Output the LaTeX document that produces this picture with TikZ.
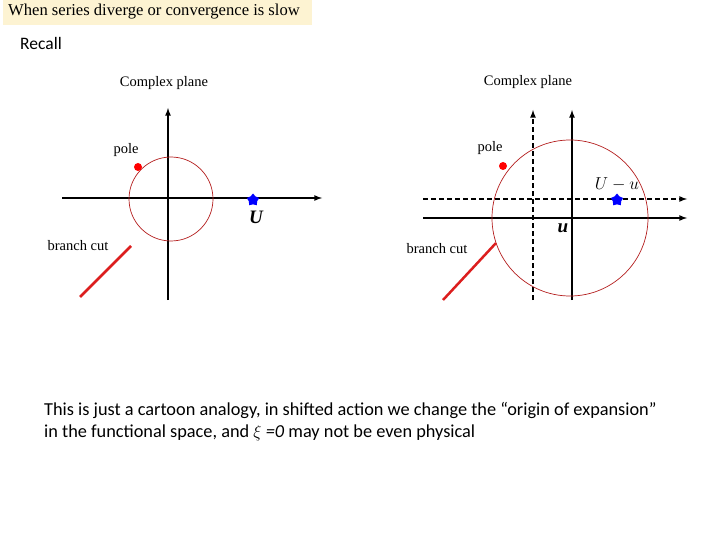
\documentclass[tikz,border=0pt]{standalone}
\usepackage{fontspec}
\setmainfont{Liberation Serif}
\newfontfamily\calfont{Carlito}
\usetikzlibrary{shapes.geometric}
\definecolor{titlebg}{RGB}{253,243,210}
\definecolor{circred}{RGB}{180,30,30}
\definecolor{cutred}{RGB}{220,30,30}
\begin{document}
\begin{tikzpicture}[x=1pt,y=-1pt,
 ax/.style={line width=1.6pt,-latex},
 dax/.style={line width=1.6pt,dash pattern=on 5pt off 3pt,-latex},
 circ/.style={draw=circred,line width=0.7pt},
 cut/.style={draw=cutred,line width=2.5pt},
 lab/.style={font=\fontsize{14.5}{16}\selectfont},
 poledot/.style={circle,fill=red,inner sep=0pt,minimum size=8pt},
 starm/.style={star,star points=5,fill=blue,inner sep=0pt,minimum size=13pt}]
\useasboundingbox (0,0) rectangle (720,540);
\fill[white] (0,0) rectangle (720,540);
\fill[titlebg] (3,0) rectangle (312,25);
\node[anchor=west,inner sep=0pt,font=\fontsize{16.6}{18}\selectfont] (title) at (8,12) {When series diverge or convergence is slow};
\node[anchor=west,inner sep=0pt,font=\calfont\fontsize{17.5}{20}\selectfont] (recall) at (20,43) {Recall};
% left panel
\coordinate (lt) at (168,108); \coordinate (lb) at (168,300);
\coordinate (ll) at (62,198); \coordinate (lr) at (322,198);
\draw[ax] (lb) -- (lt);
\draw[ax] (ll) -- (lr);
\draw[circ] (171,199) circle (42);
\node[poledot] (p1) at (138,167) {};
\node[starm] (s1) at (253,200) {};
\node[font=\fontsize{19}{20}\selectfont\itshape\bfseries] (U1) at (256,217) {U};
\coordinate (c1a) at (131,246); \coordinate (c1b) at (80,297);
\draw[cut] (c1a) -- (c1b);
\node[lab] (bc1) at (78,246) {branch cut};
\node[lab] (pl1) at (126,150) {pole};
\node[lab] (cp1) at (164,83) {Complex plane};
% right panel
\coordinate (dvt) at (533,110); \coordinate (dvb) at (533,300);
\coordinate (svt) at (572,110); \coordinate (svb) at (572,300);
\coordinate (dhl) at (423,199); \coordinate (dhr) at (687,199);
\coordinate (shl) at (423,218); \coordinate (shr) at (687,218);
\draw[dax] (dvb) -- (dvt);
\draw[ax] (svb) -- (svt);
\draw[dax] (dhl) -- (dhr);
\draw[ax] (shl) -- (shr);
\draw[circ] (570,218) circle (78);
\node[poledot] (p2) at (503,166) {};
\node[starm] (s2) at (617,200) {};
\node[font=\fontsize{19}{20}\selectfont] (U2) at (617,184) {$U-u$};
\node[font=\fontsize{19}{20}\selectfont\bfseries\itshape] (u2) at (563,228) {u};
\coordinate (c2a) at (496,243); \coordinate (c2b) at (443,300);
\draw[cut] (c2a) -- (c2b);
\node[lab] (bc2) at (437,249) {branch cut};
\node[lab] (pl2) at (490,148) {pole};
\node[lab] (cp2) at (528,82) {Complex plane};
% bottom text
\node[anchor=west,align=left,inner sep=0pt,font=\calfont\fontsize{18.3}{22}\selectfont] (txt) at (44,422) {This is just a cartoon analogy, in shifted action we change the “origin of expansion”\\in the functional space, and $\xi$ \textit{=0} may not be even physical};
\end{tikzpicture}
\end{document}
